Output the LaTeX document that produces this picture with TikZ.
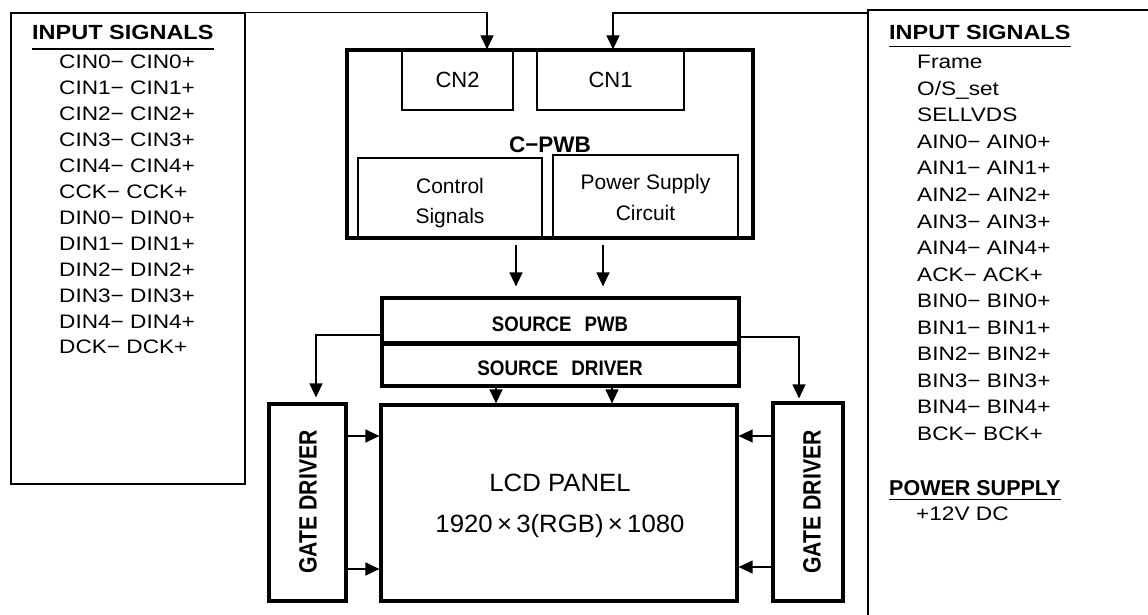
\documentclass[tikz,border=0pt]{standalone}
\usepackage{fontspec}
\setmainfont{Liberation Sans}
\usetikzlibrary{arrows.meta,calc,fit}
\newcommand{\hs}[2]{\scalebox{#1}[1]{#2}}
\begin{document}
\begin{tikzpicture}[x=1pt,y=-1pt,
  arr/.style={-{Triangle[length=14pt,width=13pt]}, line width=1.3pt},
  thinbox/.style={draw, line width=1.3pt, inner sep=0pt},
  thickbox/.style={draw, line width=3.2pt, inner sep=0pt},
  framebox/.style={draw, line width=1.5pt, inner sep=0pt},
  listtxt/.style={font=\fontsize{19.5}{21}\selectfont, anchor=base west, inner sep=0pt},
  headtxt/.style={font=\bfseries\fontsize{20.5}{22}\selectfont, anchor=base west, inner sep=0pt},
  boardtxt/.style={font=\fontsize{21}{24}\selectfont, inner sep=0pt},
  srctxt/.style={font=\bfseries\fontsize{21}{24}\selectfont, anchor=base, inner sep=0pt},
  lcdtxt/.style={font=\fontsize{25}{28}\selectfont, anchor=base, inner sep=0pt},
  gatetxt/.style={font=\bfseries\fontsize{25}{28}\selectfont, rotate=90, inner sep=0pt},
  uline/.style={line width=1.4pt}
]
\useasboundingbox (0,0) rectangle (1148,615);
\fill[white] (0,0) rectangle (1148,615);

% ---------- left input box ----------
\node[framebox, fit={(11,13)(245,484)}] (leftbox) {};
\node[headtxt] (lhead) at (32,40) {\hs{1.145}{INPUT SIGNALS}};
\draw[uline] ([yshift=-9pt]lhead.base west) -- ([yshift=-9pt]lhead.base east);
\foreach \t [count=\i from 0] in {CIN0− CIN0+,CIN1− CIN1+,CIN2− CIN2+,CIN3− CIN3+,CIN4− CIN4+,CCK− CCK+,DIN0− DIN0+,DIN1− DIN1+,DIN2− DIN2+,DIN3− DIN3+,DIN4− DIN4+,DCK− DCK+}
  \node[listtxt] (ltxt\i) at (59,{69+25.9*\i}) {\hs{1.16}{\t}};

% ---------- right input box (cut off by the page) ----------
\coordinate (rbtop) at (1148,10);
\coordinate (rbcorner) at (868,10);
\coordinate (rbbot) at (868,615);
\coordinate (rbin) at (868,13);
\draw[line width=1.5pt] (rbtop) -- (rbcorner) -- (rbbot);
\node[headtxt] (rhead) at (889,40) {\hs{1.145}{INPUT SIGNALS}};
\draw[uline] ([yshift=-6.5pt]rhead.base west) -- ([yshift=-6.5pt]rhead.base east);
\foreach \t [count=\i from 0] in {Frame,O/S\_set,SELLVDS,AIN0− AIN0+,AIN1− AIN1+,AIN2− AIN2+,AIN3− AIN3+,AIN4− AIN4+,ACK− ACK+,BIN0− BIN0+,BIN1− BIN1+,BIN2− BIN2+,BIN3− BIN3+,BIN4− BIN4+,BCK− BCK+}
  \node[listtxt] (rtxt\i) at (917,{69+26.5*\i}) {\hs{1.16}{\t}};
\node[headtxt, font=\bfseries\fontsize{21.5}{23}\selectfont] (phead) at (889,495) {POWER SUPPLY};
\draw[uline] ([yshift=-4.5pt]phead.base west) -- ([yshift=-4.5pt]phead.base east);
\node[listtxt] (ptxt) at (916,520) {\hs{1.16}{+12V DC}};

% ---------- C-PWB ----------
\node[thickbox, fit={(347,50)(753,238)}] (cpwb) {};
\node[thinbox, fit={(402,50)(513,110)}] (cn2box) {};
\node[thinbox, fit={(537,50)(684,110)}] (cn1box) {};
\node[thinbox, fit={(358,158)(542,238)}] (ctrlbox) {};
\node[thinbox, fit={(553,155)(738,238)}] (pwrbox) {};
\node[boardtxt, font=\fontsize{22}{24}\selectfont] (cn2txt) at (457.5,80) {CN2};
\node[boardtxt, font=\fontsize{22}{24}\selectfont] (cn1txt) at (610.5,80) {CN1};
\node[boardtxt, font=\bfseries\fontsize{22.5}{24}\selectfont] (cpwbtxt) at (550,145) {C−PWB};
\node[boardtxt, font=\fontsize{21}{30.5}\selectfont, align=center] (ctrltxt) at (450,202.9) {Control\\Signals};
\node[boardtxt, font=\fontsize{21}{31}\selectfont, align=center] (pwrtxt) at (645.5,197.4) {Power Supply\\Circuit};

% ---------- source ----------
\node[thickbox, fit={(382,298)(739,343)}] (srcpwb) {};
\node[thickbox, fit={(382,344)(739,386)}] (srcdrv) {};
\node[srctxt] (srcpwbtxt) at (560,331.5) {\hs{0.886}{SOURCE\hspace{0.7em}PWB}};
\node[srctxt] (srcdrvtxt) at (560,375.5) {\hs{0.90}{SOURCE\hspace{0.7em}DRIVER}};

% ---------- LCD and gates ----------
\node[thickbox, fit={(381,405)(737,601)}] (lcd) {};
\node[thickbox, fit={(269,404)(346,601)}] (gateL) {};
\node[thickbox, fit={(773,403)(843,601)}] (gateR) {};
\node[lcdtxt] (lcdtxt1) at (560,491) {\hs{1.03}{LCD PANEL}};
\node[lcdtxt] (lcdtxt2) at (560,532) {\hs{1.03}{1920\,×\,3(RGB)\,×\,1080}};
\node[gatetxt] (gateLtxt) at (308,502) {\hs{0.85}{GATE DRIVER}};
\node[gatetxt] (gateRtxt) at (812,502) {\hs{0.85}{GATE DRIVER}};

% ---------- connectors ----------
\draw[arr] (leftbox.north east) -| ([xshift=29.5pt]cn2box.north);
\draw[arr] (rbin) -| ([xshift=2.5pt]cn1box.north);
\draw[arr, shorten <=5pt, shorten >=10pt] ([xshift=-34pt]cpwb.south) -- ([xshift=-34pt]cpwb.south |- srcpwb.north);
\draw[arr, shorten <=5pt, shorten >=10pt] ([xshift=53pt]cpwb.south) -- ([xshift=53pt]cpwb.south |- srcpwb.north);
\draw[arr] ([xshift=-64.5pt]srcdrv.south) -- ([xshift=-64.5pt]srcdrv.south |- lcd.north);
\draw[arr] ([xshift=51.5pt]srcdrv.south) -- ([xshift=51.5pt]srcdrv.south |- lcd.north);
\draw[arr, shorten >=5pt] ([yshift=-14.5pt]srcpwb.west) -| ([xshift=8.5pt]gateL.north);
\draw[arr, shorten >=3pt] ([yshift=-16.5pt]srcpwb.east) -| ([xshift=-9pt]gateR.north);
\draw[arr] ([yshift=66.5pt]gateL.east) -- ([yshift=66.5pt]gateL.east -| lcd.west);
\draw[arr] ([yshift=-66.5pt]gateL.east) -- ([yshift=-66.5pt]gateL.east -| lcd.west);
\draw[arr] ([yshift=66pt]gateR.west) -- ([yshift=66pt]gateR.west -| lcd.east);
\draw[arr] ([yshift=-65pt]gateR.west) -- ([yshift=-65pt]gateR.west -| lcd.east);
\end{tikzpicture}
\end{document}
